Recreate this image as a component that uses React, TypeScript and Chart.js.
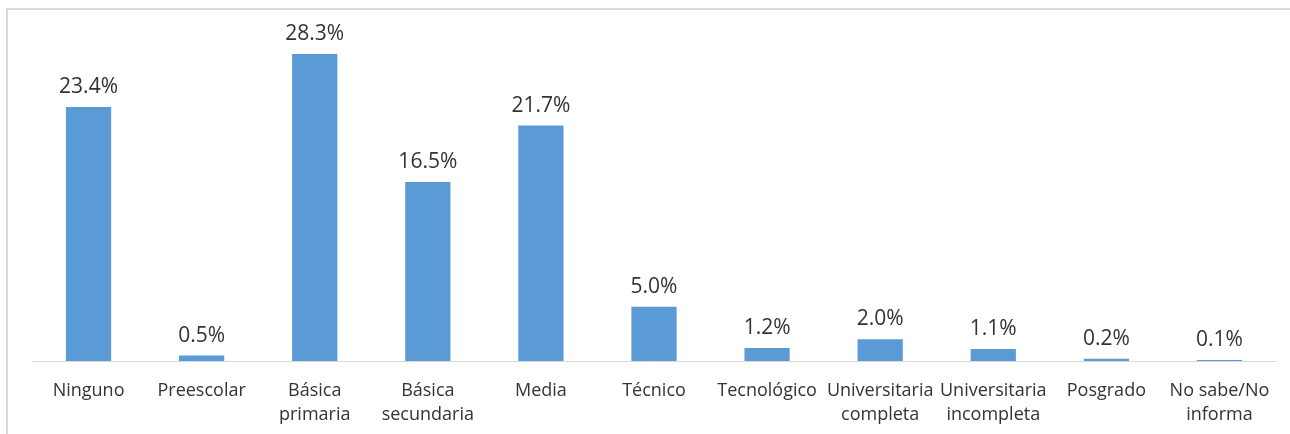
import React, { useEffect, useRef } from "react";
import { Chart, registerables } from "chart.js";

Chart.register(...registerables);

const categories: (string | string[])[] = [
  "Ninguno",
  "Preescolar",
  ["Básica", "primaria"],
  ["Básica", "secundaria"],
  "Media",
  "Técnico",
  "Tecnológico",
  ["Universitaria", "completa"],
  ["Universitaria", "incompleta"],
  "Posgrado",
  ["No sabe/No", "informa"],
];
const values: number[] = [23.4, 0.5, 28.3, 16.5, 21.7, 5.0, 1.2, 2.0, 1.1, 0.2, 0.1];

const dataLabelPlugin = {
  id: "dataLabels",
  afterDatasetsDraw(chart: any) {
    const ctx = chart.ctx;
    const meta = chart.getDatasetMeta(0);
    ctx.save();
    ctx.font = "21px 'Open Sans'";
    ctx.fillStyle = "#333333";
    ctx.textAlign = "center";
    ctx.textBaseline = "alphabetic";
    meta.data.forEach((bar: any, i: number) => {
      ctx.fillText(values[i].toFixed(1) + "%", bar.x, bar.y - 14);
    });
    ctx.restore();
  },
};

export default function App() {
  const ref = useRef<HTMLCanvasElement>(null);
  useEffect(() => {
    if (!ref.current) return;
    const chart = new Chart(ref.current, {
      type: "bar",
      data: {
        labels: categories,
        datasets: [
          {
            data: values,
            backgroundColor: "#5B9BD5",
            borderWidth: 0,
            categoryPercentage: 1,
            barPercentage: 0.4,
          },
        ],
      },
      options: {
        animation: false,
        responsive: false,
        maintainAspectRatio: false,
        layout: { padding: { left: 32, right: 14, top: 35.5, bottom: 0 } },
        plugins: { legend: { display: false }, tooltip: { enabled: false } },
        scales: {
          x: {
            grid: { display: false },
            border: { display: true, color: "#d9d9d9", width: 1 },
            afterFit: (scale: any) => {
              scale.height = 73;
            },
            ticks: {
              autoSkip: false,
              maxRotation: 0,
              minRotation: 0,
              padding: 10,
              color: "#333333",
              font: { family: "'Open Sans'", size: 18, lineHeight: 1.33 },
            },
          },
          y: {
            display: false,
            min: 0,
            max: 30,
          },
        },
      },
      plugins: [dataLabelPlugin],
    });
    return () => chart.destroy();
  }, []);
  return (
    <div
      style={{
        position: "fixed",
        left: 0,
        top: 0,
        width: 1290,
        height: 434,
        overflow: "hidden",
        background: "#fff",
      }}
    >
      <div
        style={{
          position: "absolute",
          left: 6,
          top: 8,
          width: 1300,
          height: 450,
          border: "2px solid #d9d9d9",
          boxSizing: "border-box",
        }}
      />
      <canvas
        ref={ref}
        width={1290}
        height={434}
        style={{ position: "absolute", left: 0, top: 0, width: 1290, height: 434 }}
      />
    </div>
  );
}
